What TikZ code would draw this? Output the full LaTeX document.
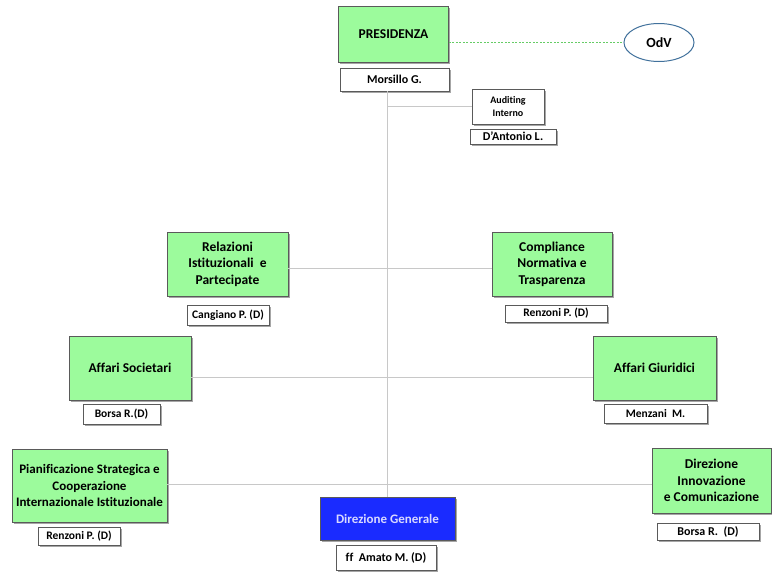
\documentclass[tikz,border=0pt]{standalone}
\usepackage{fontspec}
\setmainfont{Carlito}[Ligatures=NoCommon]
\usetikzlibrary{shapes.geometric,shadows}
\definecolor{boxgreen}{HTML}{9CFB9C}
\definecolor{edgegray}{HTML}{5A5A5A}
\definecolor{linegray}{HTML}{C8C8C8}
\definecolor{dgblue}{HTML}{1A2BFF}
\definecolor{odvblue}{HTML}{41719C}
\definecolor{dashgreen}{HTML}{66CC66}
\tikzset{
  sh/.style={drop shadow={shadow xshift=1.5pt,shadow yshift=-1.5pt,opacity=0.35,fill=black}},
  unitbox/.style={sh,draw=edgegray,line width=0.9pt,fill=boxgreen,align=center,inner sep=0pt,
     font=\bfseries\fontsize{13.5}{16.5}\selectfont},
  namebox/.style={sh,draw=edgegray,line width=0.7pt,fill=white,align=center,inner sep=0pt,
     font=\bfseries\fontsize{11.5}{13}\selectfont},
  conn/.style={draw=linegray,line width=0.8pt},
}
\begin{document}
\begin{tikzpicture}[x=1pt,y=-1pt]
\useasboundingbox (0,0) rectangle (772,573);
\node[unitbox,minimum width=110pt,minimum height=56pt] (pres) at (393.5,34) {PRESIDENZA};
\node[namebox,minimum width=109pt,minimum height=23pt,font=\bfseries\fontsize{12}{13}\selectfont] (mors) at (394.5,79.5) {Morsillo G.};
\node[draw=odvblue,line width=1pt,fill=white,ellipse,minimum width=70pt,minimum height=38pt,inner sep=0pt,font=\bfseries\fontsize{14}{16}\selectfont] (odv) at (659,42.5) {OdV};
\node[namebox,minimum width=72pt,minimum height=35pt,font=\bfseries\fontsize{10}{12.7}\selectfont] (aud) at (508,106.5) {Auditing\\Interno};
\node[namebox,minimum width=86pt,minimum height=15pt,font=\bfseries\fontsize{12}{13}\selectfont] (dant) at (513,136.5) {D'Antonio L.};
\node[unitbox,minimum width=121pt,minimum height=64pt] (rel) at (227.5,264) {Relazioni\\Istituzionali\ \ e\\Partecipate};
\node[namebox,minimum width=82pt,minimum height=20pt] (cang) at (228,315) {Cangiano P. (D)};
\node[unitbox,minimum width=120pt,minimum height=64pt] (comp) at (552,264) {Compliance\\Normativa e\\Trasparenza};
\node[namebox,minimum width=102pt,minimum height=17pt] (renz1) at (556,313.5) {Renzoni P. (D)};
\node[unitbox,minimum width=122pt,minimum height=64pt] (soc) at (130,368) {Affari Societari};
\node[namebox,minimum width=77pt,minimum height=20pt] (bor1) at (121.5,414) {Borsa R.(D)};
\node[unitbox,minimum width=123pt,minimum height=64pt] (giu) at (654.5,368) {Affari Giuridici};
\node[namebox,minimum width=103pt,minimum height=19pt] (menz) at (655.5,413.5) {Menzani\ \ M.};
\node[unitbox,minimum width=155pt,minimum height=73pt,font=\bfseries\fontsize{13}{16.5}\selectfont] (pian) at (89.5,485.5) {Pianificazione Strategica e\\Cooperazione\\Internazionale Istituzionale};
\node[namebox,minimum width=82pt,minimum height=18pt] (renz2) at (79,536) {Renzoni P. (D)};
\node[unitbox,minimum width=119pt,minimum height=65pt] (inn) at (711.5,480.5) {Direzione\\Innovazione\\e Comunicazione};
\node[namebox,minimum width=102pt,minimum height=17pt,font=\bfseries\fontsize{12}{13}\selectfont] (bor2) at (708,531.5) {Borsa R.\ \ (D)};
\node[sh,draw=edgegray,line width=0.9pt,fill=dgblue,text=white!85!blue,minimum width=135pt,minimum height=43pt,inner sep=0pt,font=\bfseries\fontsize{13}{15}\selectfont] (dg) at (387.5,518.5) {Direzione Generale};
\node[namebox,minimum width=100pt,minimum height=25pt,font=\bfseries\fontsize{12}{13}\selectfont] (ama) at (386,557.5) {ff\ \ Amato M. (D)};
% connectors
\draw[draw=dashgreen,line width=0.8pt,dash pattern=on 2pt off 1.5pt] (pres.east |- odv.west) -- (odv.west);
\coordinate (spine) at (dg.north |- mors.south);
\draw[conn] (spine) -- (dg.north);
\draw[conn] (spine |- aud.west) -- (aud.west);
\draw[conn] (rel.east |- {(0,268)}) -- (comp.west |- {(0,268)});
\draw[conn] (soc.east |- {(0,377)}) -- (giu.west |- {(0,377)});
\draw[conn] (pian.east |- {(0,484)}) -- (inn.west |- {(0,484)});
\end{tikzpicture}
\end{document}
